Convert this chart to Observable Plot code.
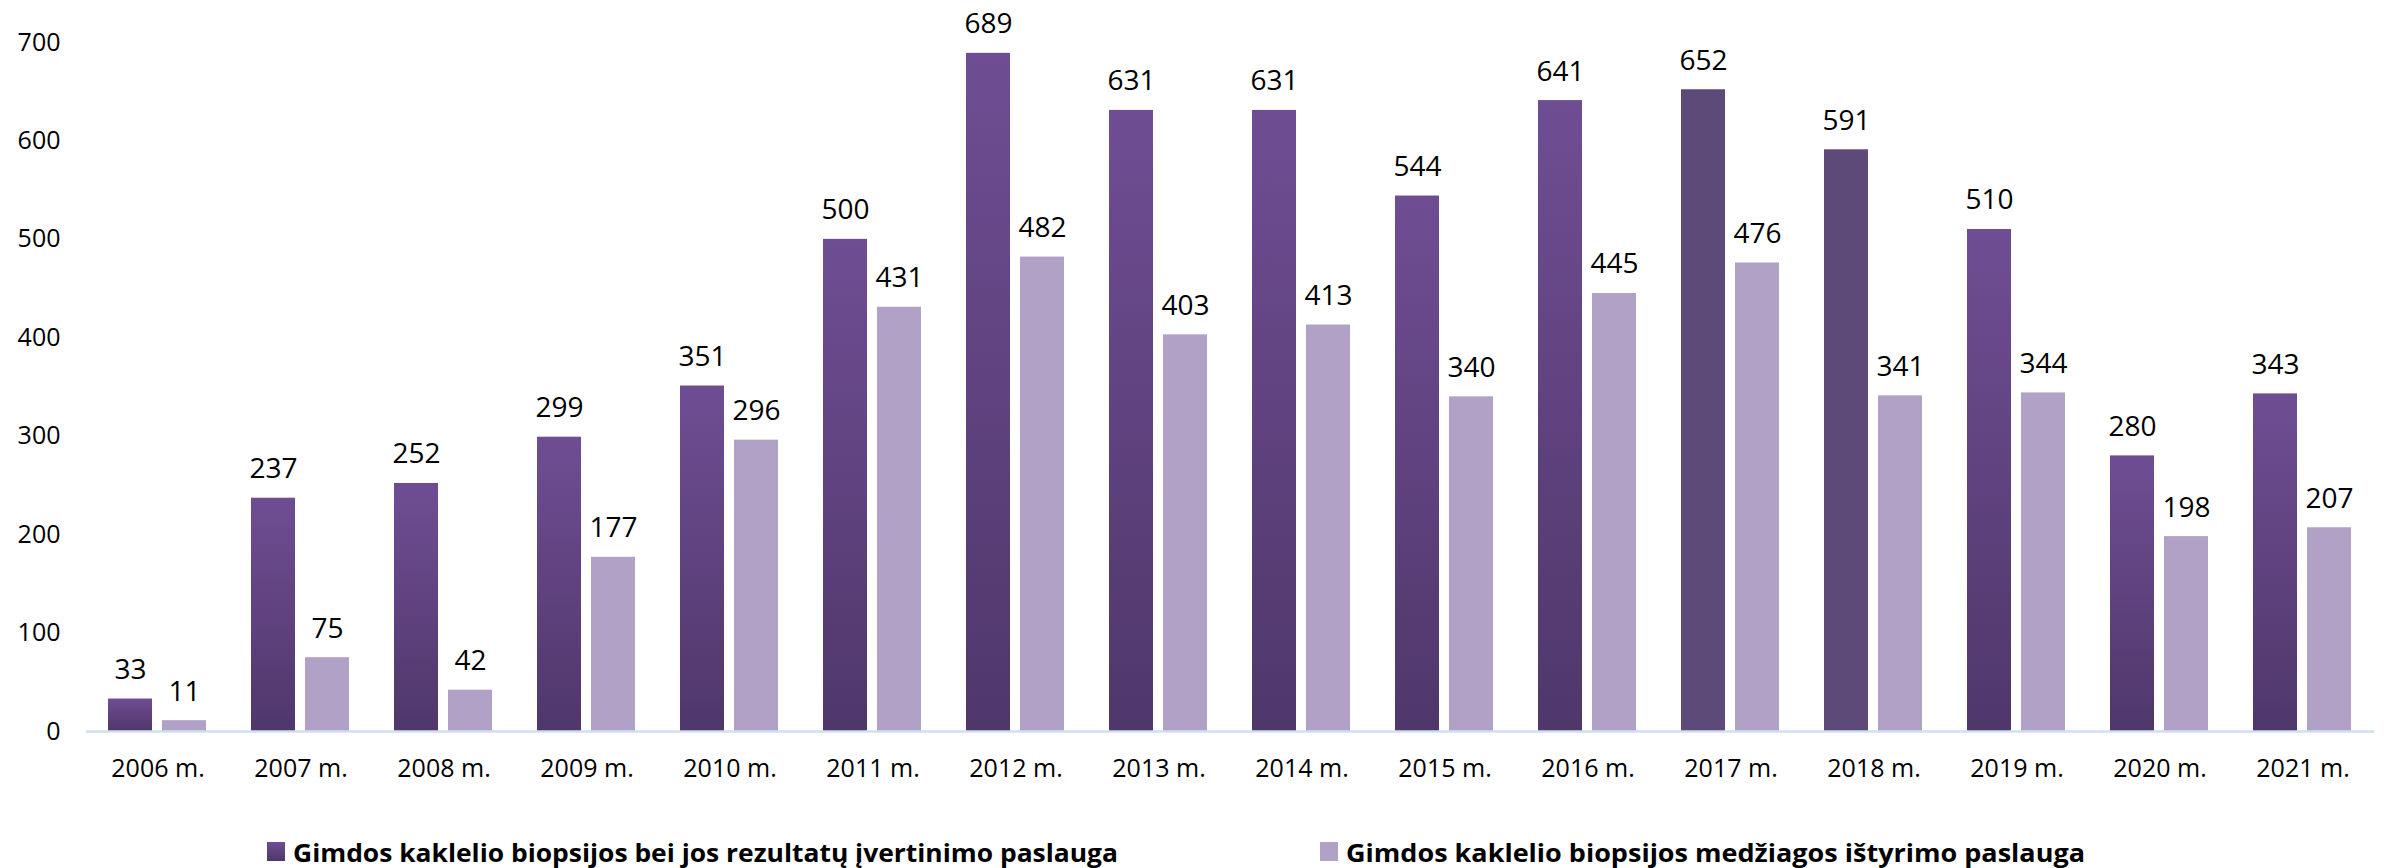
<!DOCTYPE html>
<html>
<head>
<meta charset="utf-8">
<script src="https://cdn.jsdelivr.net/npm/d3@7"></script>
<script src="https://cdn.jsdelivr.net/npm/@observablehq/plot@0.6"></script>
<style>
  html, body { margin: 0; padding: 0; background: #ffffff; }
  #wrap { position: relative; width: 2387px; height: 868px; font-family: "Open Sans", sans-serif; }
  .leg { position: absolute; top: 842px; height: 19px; display: flex; align-items: center; white-space: nowrap; }
  .sw { width: 18px; height: 19px; flex: none; }
  .lt { font-weight: 700; font-size: 25px; color: #000; margin-left: 8px; transform-origin: left center; display: inline-block; }
  svg rect.bar { filter: drop-shadow(2px 1px 2px rgba(0,0,0,0.18)); }
</style>
</head>
<body>
<div id="wrap"><div id="chart"></div></div>
<script>
const years = ["2006 m.","2007 m.","2008 m.","2009 m.","2010 m.","2011 m.","2012 m.","2013 m.","2014 m.","2015 m.","2016 m.","2017 m.","2018 m.","2019 m.","2020 m.","2021 m."];
const seriesNames = [
  "Gimdos kaklelio biopsijos bei jos rezultatų įvertinimo paslauga",
  "Gimdos kaklelio biopsijos medžiagos ištyrimo paslauga"
];
const evaluationValues = [33,237,252,299,351,500,689,631,631,544,641,652,591,510,280,343];
const materialValues = [11,75,42,177,296,431,482,403,413,340,445,476,341,344,198,207];
const flatYears = ["2017 m.","2018 m."];
const yTicks = [0,100,200,300,400,500,600,700];

const rows = [];
years.forEach((y, i) => {
  rows.push({year: y, series: seriesNames[0], value: evaluationValues[i]});
  rows.push({year: y, series: seriesNames[1], value: materialValues[i]});
});
const darkGrad = rows.filter(d => d.series === seriesNames[0] && !flatYears.includes(d.year));
const darkFlat = rows.filter(d => d.series === seriesNames[0] && flatYears.includes(d.year));
const light = rows.filter(d => d.series === seriesNames[1]);

const chart = Plot.plot({
  width: 2387,
  height: 790,
  marginLeft: 83,
  marginRight: 10,
  marginTop: 42,
  marginBottom: 59,
  style: {fontFamily: "Open Sans, sans-serif", fontSize: "25px", color: "#000", background: "#fff"},
  fx: {domain: years, padding: 0, label: null, axis: "bottom", tickSize: 0, tickPadding: 28},
  x: {domain: seriesNames, paddingInner: 0.18, paddingOuter: 0.394, axis: null},
  y: {domain: [0, 700], ticks: yTicks, tickSize: 0, tickPadding: 26, label: null, tickFormat: d3.format("d")},
  marks: [
    Plot.barY(darkGrad, {fx: "year", x: "series", y: "value", fill: "url(#darkGrad)", className: "bar"}),
    Plot.barY(darkFlat, {fx: "year", x: "series", y: "value", fill: "#5e4a78", className: "bar"}),
    Plot.barY(light, {fx: "year", x: "series", y: "value", fill: "#b1a1c7", className: "bar"}),
    Plot.ruleY([0], {stroke: "#d2dff0", strokeWidth: 2.5}),
    Plot.text(rows, {fx: "year", x: "series", y: "value", text: d => String(d.value), dy: -29, fontSize: 28, fill: "#000"})
  ]
});

// gradient definition for the dark bars
const ns = "http://www.w3.org/2000/svg";
const defs = document.createElementNS(ns, "defs");
const lg = document.createElementNS(ns, "linearGradient");
lg.setAttribute("id", "darkGrad");
lg.setAttribute("x1", "0"); lg.setAttribute("y1", "0");
lg.setAttribute("x2", "0"); lg.setAttribute("y2", "1");
[["0%", "#6f4d93"], ["100%", "#4f376a"]].forEach(([o, c]) => {
  const s = document.createElementNS(ns, "stop");
  s.setAttribute("offset", o); s.setAttribute("stop-color", c);
  lg.appendChild(s);
});
defs.appendChild(lg);
chart.insertBefore(defs, chart.firstChild);
document.getElementById("chart").appendChild(chart);

// legend below the chart
const wrap = document.getElementById("wrap");
const legendItems = [
  {name: seriesNames[0], swatch: "linear-gradient(#6f4d93, #4f376a)", left: 267, textWidth: 825},
  {name: seriesNames[1], swatch: "#b1a1c7", left: 1320, textWidth: 739}
];
legendItems.forEach(it => {
  const div = document.createElement("div");
  div.className = "leg";
  div.style.left = it.left + "px";
  const sw = document.createElement("span");
  sw.className = "sw";
  sw.style.background = it.swatch;
  const t = document.createElement("span");
  t.className = "lt";
  t.textContent = it.name;
  div.appendChild(sw); div.appendChild(t);
  wrap.appendChild(div);
  const w = t.getBoundingClientRect().width;
  t.style.transform = `scaleX(${it.textWidth / w})`;
});
</script>
</body>
</html>
